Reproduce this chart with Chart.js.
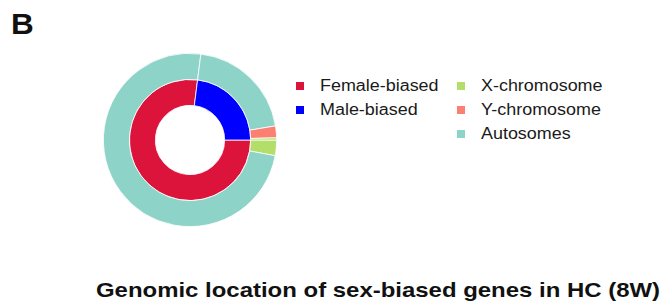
<!DOCTYPE html>
<html lang="en">
<head>
    <meta charset="UTF-8">
    <title>Genomic location of sex-biased genes in HC (8W)</title>
    <script src="https://cdn.jsdelivr.net/npm/chart.js"></script>
    <style>
      body {
        margin: 0;
        width: 668px;
        height: 304px;
        background: white;
        font-family: "Liberation Sans", Arial, sans-serif;
        color: #111;
        position: relative;
        overflow: hidden;
      }
      .panel {
        position: absolute;
        left: 11px;
        top: 7px;
        font-size: 30px;
        font-weight: bold;
        transform: scaleX(1.05);
        transform-origin: left top;
      }
      #chart {
        position: absolute;
        left: 103px;
        top: 53px;
      }
      .legend {
        position: absolute;
        font-size: 16px;
        color: #1a1a1a;
      }
      .legend .item {
        position: absolute;
        white-space: nowrap;
        height: 24px;
        line-height: 24px;
      }
      .legend .box {
        position: absolute;
        left: 0;
        top: 8px;
        width: 8px;
        height: 8px;
      }
      .legend .txt {
        position: absolute;
        left: 24px;
        top: 0;
        transform: scaleX(1.12);
        transform-origin: left center;
      }
      .title {
        position: absolute;
        left: 96px;
        top: 278px;
        font-size: 21px;
        font-weight: bold;
        white-space: nowrap;
        transform: scaleX(1.14);
        transform-origin: left top;
      }
    </style>
</head>
<body>
  <div class="panel">B</div>
  <canvas id="chart" width="174" height="174"></canvas>
  <div class="legend" id="legend"></div>
  <div class="title">Genomic location of sex-biased genes in HC (8W)</div>

  <script>
    // inner ring: share of sex-biased genes (%)
    const biasLabels = ['Female-biased', 'Male-biased'];
    const biasValues = [77, 23];

    // outer ring: location of those genes, in the same order round the circle (%)
    const locationLabels = ['X-chromosome', 'Y-chromosome', 'Autosomes'];
    const outerParts = ['X-chromosome', 'Autosomes', 'Autosomes', 'Y-chromosome', 'X-chromosome'];
    const outerValues = [2.9, 74.1, 20.4, 2.2, 0.4];

    const biasColors = ['#DC143C', '#0000FF'];
    const locationColors = {
      'X-chromosome': '#B3DE69',
      'Y-chromosome': '#FB8072',
      'Autosomes': '#8DD3C7'
    };

    new Chart(document.getElementById('chart'), {
      type: 'doughnut',
      data: {
        labels: outerParts,
        datasets: [
          {
            data: outerValues,
            backgroundColor: outerParts.map(p => locationColors[p]),
            borderColor: '#fff',
            borderWidth: 0.8
          },
          {
            data: biasValues,
            backgroundColor: biasColors,
            borderColor: '#fff',
            borderWidth: 0.8
          }
        ]
      },
      options: {
        responsive: false,
        animation: false,
        rotation: 90,
        cutout: '40%',
        layout: { padding: 0 },
        plugins: {
          legend: { display: false },
          tooltip: { enabled: false }
        }
      }
    });

    // legend in two columns, like the original figure
    const legend = document.getElementById('legend');
    function addItem(label, color, x, y) {
      const it = document.createElement('div');
      it.className = 'item';
      it.style.left = x + 'px';
      it.style.top = y + 'px';
      it.innerHTML = '<span class="box" style="background:' + color + '"></span>' +
                     '<span class="txt">' + label + '</span>';
      legend.appendChild(it);
    }
    biasLabels.forEach((l, i) => addItem(l, biasColors[i], 296, 74 + i * 24));
    locationLabels.forEach((l, i) => addItem(l, locationColors[l], 457, 74 + i * 24));
  </script>
</body>
</html>
